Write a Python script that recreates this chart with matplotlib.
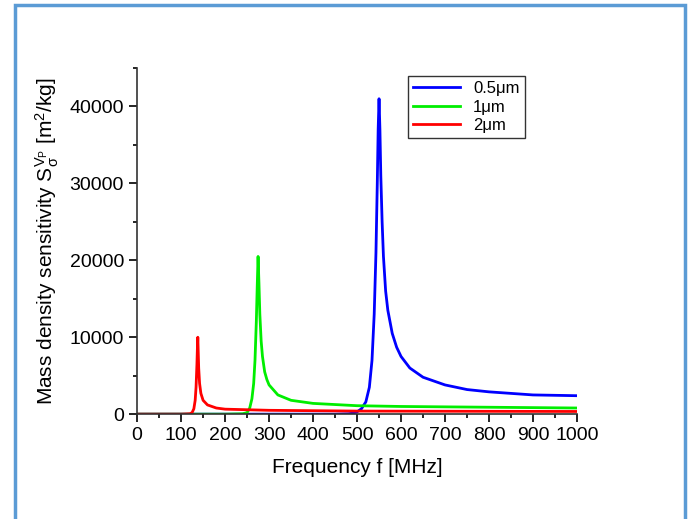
import matplotlib.pyplot as plt
from matplotlib.patches import Rectangle
from matplotlib.ticker import MultipleLocator

plt.rcParams['font.family'] = ['Liberation Sans', 'DejaVu Sans']

# values
f_05 = [0, 300, 450, 480, 490, 500, 510, 520, 528, 534, 539, 543, 546, 548, 550, 552, 554, 557, 560, 565, 570, 580, 590, 600, 620, 650, 700, 750, 800, 900, 1000]
s_05 = [0, 0, 0, 50, 120, 300, 700, 1600, 3500, 7000, 13000, 21000, 30000, 37000, 41000, 37000, 31000, 25000, 20500, 16000, 13500, 10500, 8700, 7500, 6000, 4800, 3800, 3200, 2900, 2500, 2400]
f_1 = [0, 200, 240, 250, 256, 261, 265, 268, 271, 273, 275, 277, 279, 282, 285, 290, 295, 300, 320, 350, 400, 500, 600, 800, 1000]
s_1 = [0, 0, 50, 200, 800, 2000, 4000, 7000, 12000, 16500, 20500, 17000, 13000, 9500, 7500, 5500, 4500, 3800, 2500, 1800, 1400, 1100, 1000, 900, 800]
f_2 = [0, 100, 120, 125, 129, 132, 134, 136, 137, 138, 139, 140, 142, 145, 150, 160, 180, 200, 300, 500, 1000]
s_2 = [0, 0, 50, 200, 700, 1800, 3500, 6500, 8500, 10000, 8000, 6000, 4000, 2700, 1800, 1200, 800, 650, 500, 400, 350]

fig = plt.figure(figsize=(6.96, 5.19), dpi=100)
fig.patches.append(Rectangle((0.022, -0.05), 0.962, 1.04, transform=fig.transFigure,
                             fill=False, edgecolor='#5b9bd5', linewidth=2.5))
ax = fig.add_axes([0.197, 0.202, 0.632, 0.667])

ax.plot(f_05, s_05, color='#0000ff', lw=2, label='0.5\u03bcm')
ax.plot(f_1, s_1, color='#00ee00', lw=2, label='1\u03bcm')
ax.plot(f_2, s_2, color='#ff0000', lw=2, label='2\u03bcm')

ax.set_xlim(0, 1000)
ax.set_ylim(0, 45000)
ax.set_xticks(range(0, 1001, 100))
ax.set_yticks(range(0, 40001, 10000))
ax.xaxis.set_minor_locator(MultipleLocator(50))
ax.yaxis.set_minor_locator(MultipleLocator(5000))
ax.tick_params(which='both', direction='out', labelsize=14, width=1.2)
ax.tick_params(which='major', length=6)
ax.tick_params(which='minor', length=3)
for s in ['top', 'right']:
    ax.spines[s].set_visible(False)
for s in ['left', 'bottom']:
    ax.spines[s].set_linewidth(1.2)
    ax.spines[s].set_color('#333333')

ax.set_xlabel('Frequency f [MHz]', fontsize=15, labelpad=10)
ax.set_ylabel(r'Mass density sensitivity $\mathregular{S_{\sigma}^{V_P}}$ [m$\mathregular{^2}$/kg]', fontsize=15, labelpad=6)
ax.legend(loc='upper right', bbox_to_anchor=(0.9, 1.0), fontsize=12, fancybox=False,
          edgecolor='black', handlelength=2.8, borderpad=0.3, labelspacing=0.2)

fig.savefig('out.png', dpi=100)
